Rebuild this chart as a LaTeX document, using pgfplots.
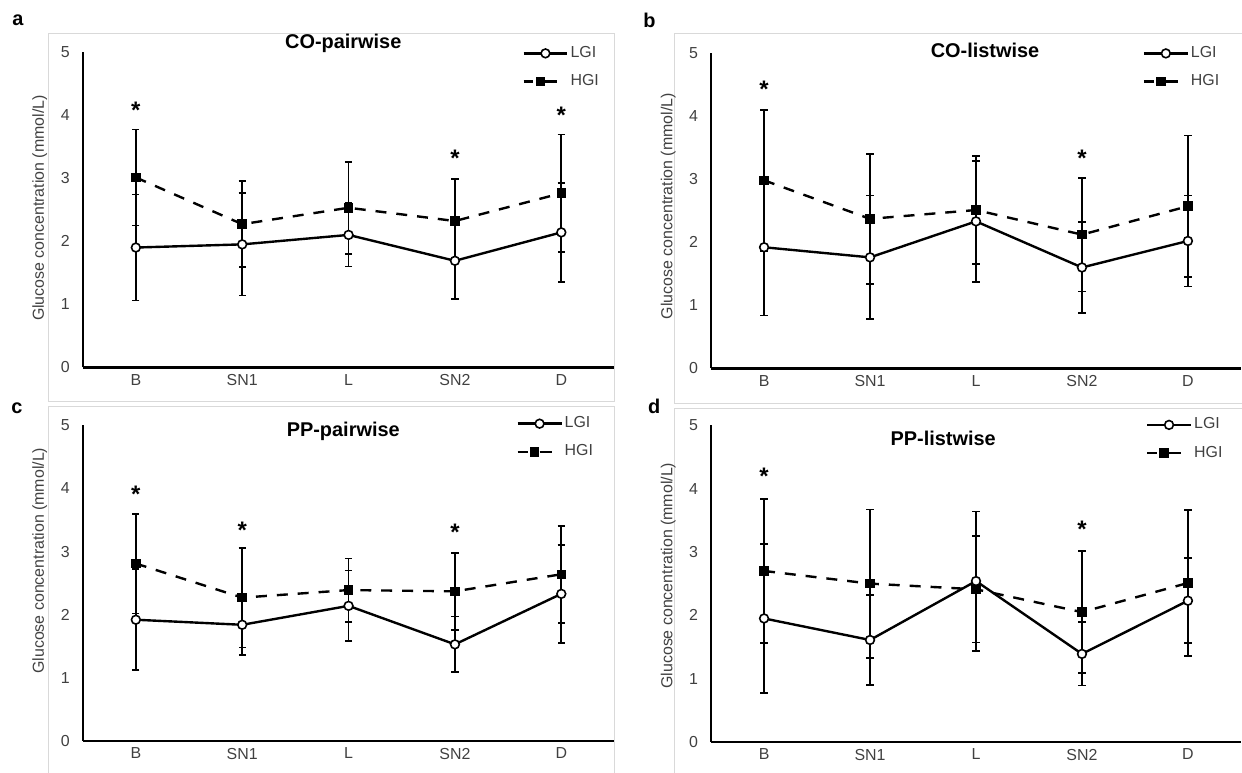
\documentclass[border=0pt]{standalone}
\usepackage{fontspec}
\setmainfont{Liberation Sans}
\usepackage{pgfplots}
\pgfplotsset{compat=1.18}
\definecolor{txt}{HTML}{404040}
\definecolor{frm}{HTML}{D9D9D9}

\pgfplotsset{
  panel/.style={
    scale only axis, width=267pt, height=158.5pt,
    xmin=-0.5, xmax=4.5, ymin=0, ymax=5,
    axis lines=left, axis line style={-, line width=1.1pt},
    major tick length=0pt,
    xtick={0,...,4}, xticklabels={B,SN1,L,SN2,D},
    ytick={0,...,5},
    tick label style={font=\fontsize{8}{9}\selectfont, text=txt},
    /pgf/number format/assume math mode=true,
    yticklabel style={xshift=-3pt},
    ylabel={Glucose concentration (mmol/L)},
    ylabel style={font=\fontsize{8}{9}\selectfont, text=txt, anchor=center},
    % the default title style already shifts up by 6pt
    title style={font=\fontsize{10}{12}\selectfont\bfseries, anchor=center, yshift=-6pt},
    legend style={draw=none, fill=none, font=\fontsize{8}{9}\selectfont, text=txt,
      anchor=north west, inner sep=0pt, row sep=5pt, cells={anchor=west},
      nodes={inner sep=1pt}},
    legend image code/.code={\draw[mark repeat=2, mark phase=2, ##1]
      plot coordinates {(0pt,0pt) (11pt,0pt) (22pt,0pt)};},
    clip=false,
  },
  lgi/.style={black, line width=1.2pt, mark=*, mark size=2.2pt,
    mark options={solid, fill=white, line width=0.8pt},
    error bars/.cd, y dir=both, y explicit,
    error bar style={line width=0.9pt, solid},
    error mark options={rotate=90, mark size=1.8pt, line width=0.9pt}},
  hgi/.style={black, line width=1.2pt, dash pattern=on 5.5pt off 5pt,
    mark=square*, mark size=1.8pt, mark options={solid},
    legend image code/.code={
      \draw[##1, solid] (0pt,0pt) -- (5pt,0pt) (11pt,0pt) -- (17pt,0pt);
      \draw[##1, solid] plot coordinates {(8.5pt,0pt)};
      \path (22pt,0pt);},
    error bars/.cd, y dir=both, y explicit,
    error bar style={line width=0.9pt, solid},
    error mark options={rotate=90, mark size=1.8pt, line width=0.9pt}},
  star/.style={forget plot, only marks, mark=text,
    text mark={\fontsize{12}{12}\selectfont\bfseries *}},
}

\begin{document}
\begin{tikzpicture}
\begin{scope}[x=0.5pt, y=-0.5pt]
  \path[use as bounding box] (0,0) rectangle (1242,776);
  \draw[frm, line width=0.6pt] (49,34) rectangle (617,403);
  \draw[frm, line width=0.6pt] (677,34) rectangle (1260,405);
  \draw[frm, line width=0.6pt] (49,408) rectangle (617,800);
  \draw[frm, line width=0.6pt] (677,410) rectangle (1260,800);
  \node[font=\fontsize{10}{12}\selectfont\bfseries] at (18,20) {a};
  \node[font=\fontsize{10}{12}\selectfont\bfseries] at (652,20) {b};
  \node[font=\fontsize{10}{12}\selectfont\bfseries] at (17,410) {c};
  \node[font=\fontsize{10}{12}\selectfont\bfseries] at (657,408) {d};
\end{scope}

% a
\begin{axis}[panel, at={(41.5pt,-184.5pt)}, anchor=south west,
  title={CO-pairwise}, title style={at={(0.49,1.028)}},
  ylabel style={at={(axis description cs:-0.0805,0.505)}},
  legend style={at={(0.826,1.025)}}]
\addplot[lgi] coordinates {(0,1.90) +- (0,0.84) (1,1.95) +- (0,0.81) (2,2.10) +- (0,0.50) (3,1.69) +- (0,0.61) (4,2.14) +- (0,0.78)};
\addplot[hgi] coordinates {(0,3.01) +- (0,0.76) (1,2.27) +- (0,0.68) (2,2.53) +- (0,0.73) (3,2.32) +- (0,0.67) (4,2.76) +- (0,0.93)};
\addplot[star] coordinates {(0,4.08) (3,3.31) (4,3.99)};
\legend{LGI, HGI}
\end{axis}

% b
\begin{axis}[panel, width=266pt, at={(357pt,-185pt)}, anchor=south west,
  title={CO-listwise}, title style={at={(0.517,1.009)}},
  ylabel style={at={(axis description cs:-0.0808,0.514)}},
  legend style={at={(0.814,1.028)}}]
\addplot[lgi] coordinates {(0,1.92) +- (0,1.08) (1,1.76) +- (0,0.98) (2,2.33) +- (0,0.96) (3,1.60) +- (0,0.72) (4,2.02) +- (0,0.72)};
\addplot[hgi] coordinates {(0,2.98) +- (0,1.12) (1,2.37) +- (0,1.03) (2,2.51) +- (0,0.86) (3,2.12) +- (0,0.90) (4,2.57) +- (0,1.12)};
\addplot[star] coordinates {(0,4.42) (3,3.33)};
\legend{LGI, HGI}
\end{axis}

% c
\begin{axis}[panel, at={(41.5pt,-372pt)}, anchor=south west,
  title={PP-pairwise}, title style={at={(0.49,0.981)}},
  ylabel style={at={(axis description cs:-0.0805,0.571)}},
  legend style={at={(0.815,1.035)}}]
\addplot[lgi] coordinates {(0,1.92) +- (0,0.80) (1,1.84) +- (0,0.48) (2,2.14) +- (0,0.56) (3,1.53) +- (0,0.44) (4,2.33) +- (0,0.78)};
\addplot[hgi] coordinates {(0,2.81) +- (0,0.79) (1,2.27) +- (0,0.79) (2,2.39) +- (0,0.50) (3,2.37) +- (0,0.61) (4,2.64) +- (0,0.77)};
\addplot[star] coordinates {(0,3.91) (1,3.33) (3,3.31)};
\legend{LGI, HGI}
\end{axis}

% d
\begin{axis}[panel, width=266pt, height=159pt, at={(357pt,-372.5pt)}, anchor=south west,
  title={PP-listwise}, title style={at={(0.438,0.959)}},
  ylabel style={at={(axis description cs:-0.0808,0.525)}},
  legend style={at={(0.82,1.031)}}]
\addplot[lgi] coordinates {(0,1.95) +- (0,1.18) (1,1.61) +- (0,0.71) (2,2.54) +- (0,1.10) (3,1.39) +- (0,0.50) (4,2.23) +- (0,0.67)};
\addplot[hgi] coordinates {(0,2.70) +- (0,1.14) (1,2.50) +- (0,1.17) (2,2.41) +- (0,0.84) (3,2.05) +- (0,0.96) (4,2.51) +- (0,1.15)};
\addplot[star] coordinates {(0,4.19) (3,3.35)};
\legend{LGI, HGI}
\end{axis}
\end{tikzpicture}
\end{document}
